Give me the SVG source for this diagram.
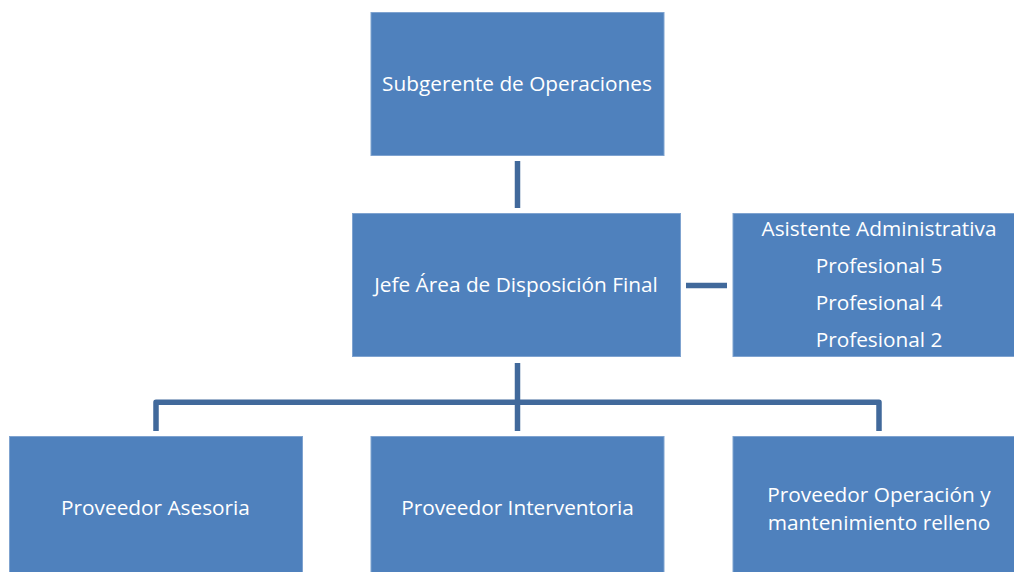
<svg xmlns="http://www.w3.org/2000/svg" width="1014" height="572" viewBox="0 0 1014 572">
<style>
.box{fill:#4F81BD;stroke:#7FA3D0;stroke-width:1}
.t{fill:#FFFFFF;font-family:"Open Sans","Liberation Sans",sans-serif;font-size:20.8px;text-anchor:middle}
.c{stroke:#41699B;stroke-width:5.5;fill:none;stroke-linejoin:round}
</style>
<rect width="1014" height="572" fill="#FFFFFF"/>
<g id="connectors">
<line class="c" x1="517.5" y1="161" x2="517.5" y2="208"/>
<line class="c" x1="686" y1="285.5" x2="727" y2="285.5"/>
<line class="c" x1="517.5" y1="363" x2="517.5" y2="431"/>
<polyline class="c" points="156,431 156,402.3 879,402.3 879,431"/>
</g>
<g id="n-subgerente">
<rect class="box" x="371" y="12.5" width="293" height="143"/>
<text class="t" x="517" y="91">Subgerente de Operaciones</text>
</g>
<g id="n-jefe">
<rect class="box" x="352.5" y="213.5" width="328" height="143"/>
<text class="t" x="516" y="292">Jefe Área de Disposición Final</text>
</g>
<g id="n-asistente">
<rect class="box" x="733" y="213.5" width="300" height="143"/>
<text class="t" x="879" y="236">Asistente Administrativa</text>
<text class="t" x="879" y="273">Profesional 5</text>
<text class="t" x="879" y="310">Profesional 4</text>
<text class="t" x="879" y="347">Profesional 2</text>
</g>
<g id="n-asesoria">
<rect class="box" x="9.5" y="436.5" width="293" height="150"/>
<text class="t" x="155.5" y="515">Proveedor Asesoria</text>
</g>
<g id="n-interventoria">
<rect class="box" x="371" y="436.5" width="293" height="150"/>
<text class="t" x="517.5" y="515">Proveedor Interventoria</text>
</g>
<g id="n-operacion">
<rect class="box" x="733" y="436.5" width="300" height="150"/>
<text class="t" x="879" y="502">Proveedor Operación y</text>
<text class="t" x="879" y="530">mantenimiento relleno</text>
</g>
</svg>
